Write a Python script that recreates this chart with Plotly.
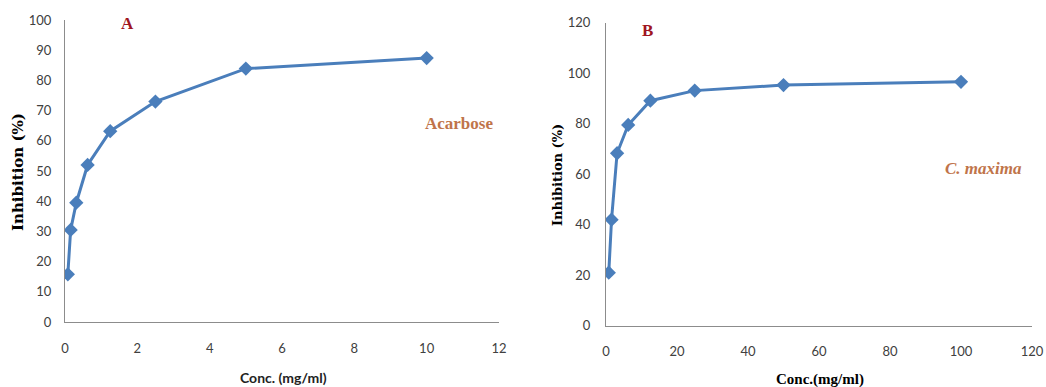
import plotly.graph_objects as go

# Panel A: Acarbose
conc_a = [0.078, 0.156, 0.3125, 0.625, 1.25, 2.5, 5, 10]
inhib_a = [15.8, 30.5, 39.5, 52.0, 63.2, 73.0, 83.9, 87.4]

# Panel B: C. maxima
conc_b = [0.78, 1.56, 3.125, 6.25, 12.5, 25, 50, 100]
inhib_b = [21.0, 42.0, 68.3, 79.5, 89.1, 93.1, 95.3, 96.6]

xticks_a = [0, 2, 4, 6, 8, 10, 12]
yticks_a = [0, 10, 20, 30, 40, 50, 60, 70, 80, 90, 100]
xticks_b = [0, 20, 40, 60, 80, 100, 120]
yticks_b = [0, 20, 40, 60, 80, 100, 120]

W, H = 1046, 387
LINE = "#4a7ebb"
TXT = "#c0744a"
RED = "#a0151f"
SERIF = "Liberation Serif"
SANS = "Lato"

fig = go.Figure()
fig.add_trace(go.Scatter(x=conc_a, y=inhib_a, mode="lines+markers",
                         line=dict(color=LINE, width=3),
                         marker=dict(symbol="diamond", size=11, color=LINE),
                         xaxis="x", yaxis="y", showlegend=False))
fig.add_trace(go.Scatter(x=conc_b, y=inhib_b, mode="lines+markers",
                         line=dict(color=LINE, width=3),
                         marker=dict(symbol="diamond", size=11, color=LINE),
                         xaxis="x2", yaxis="y2", showlegend=False))

def px(x):
    return x / W

def py(y):
    return 1 - y / H

axis_common = dict(showgrid=False, zeroline=False, showline=True, linecolor="#8c8c8c",
                   linewidth=1, ticks="", automargin=False,
                   tickfont=dict(family=SANS, size=13, color="#404040"))

fig.update_layout(
    width=W, height=H,
    margin=dict(l=0, r=0, t=0, b=0),
    paper_bgcolor="white", plot_bgcolor="white",
    xaxis=dict(domain=[px(65), px(499)], range=[0, 12], tickvals=xticks_a,
               anchor="y", ticklabelstandoff=14, **axis_common),
    yaxis=dict(domain=[py(322), py(20)], range=[0, 100], tickvals=yticks_a,
               anchor="x", ticklabelstandoff=10, **axis_common),
    xaxis2=dict(domain=[px(606), px(1032)], range=[0, 120], tickvals=xticks_b,
                anchor="y2", ticklabelstandoff=14, **axis_common),
    yaxis2=dict(domain=[py(325.7), py(22.7)], range=[0, 120], tickvals=yticks_b,
                anchor="x2", ticklabelstandoff=12, **axis_common),
)

ann = [
    dict(text="<b>Inhibition (%)</b>", x=px(18), y=py(172), textangle=-90,
         font=dict(family="DejaVu Serif", size=15, color="black")),
    dict(text="<b>Conc. (mg/ml)</b>", x=px(283), y=py(377),
         font=dict(family=SANS, size=14, color="#222222")),
    dict(text="<b>Inhibition (%)</b>", x=px(557), y=py(175), textangle=-90,
         font=dict(family="DejaVu Serif", size=13, color="black")),
    dict(text="<b>Conc.(mg/ml)</b>", x=px(820), y=py(379),
         font=dict(family=SERIF, size=15, color="black")),
    dict(text="<b>A</b>", x=px(127), y=py(23), font=dict(family=SERIF, size=17, color=RED)),
    dict(text="<b>B</b>", x=px(647), y=py(30), font=dict(family=SERIF, size=17, color=RED)),
    dict(text="<b>Acarbose</b>", x=px(459), y=py(123), font=dict(family=SERIF, size=17, color=TXT)),
    dict(text="<b><i>C. maxima</i></b>", x=px(983), y=py(168), font=dict(family=SERIF, size=17, color=TXT)),
]
for a in ann:
    a.update(xref="paper", yref="paper", showarrow=False, xanchor="center", yanchor="middle")
    fig.add_annotation(**a)

fig.write_html(
    "out.html",
    config={"displayModeBar": False},
    post_script="document.body.style.margin='0';document.body.style.overflow='hidden';",
)
